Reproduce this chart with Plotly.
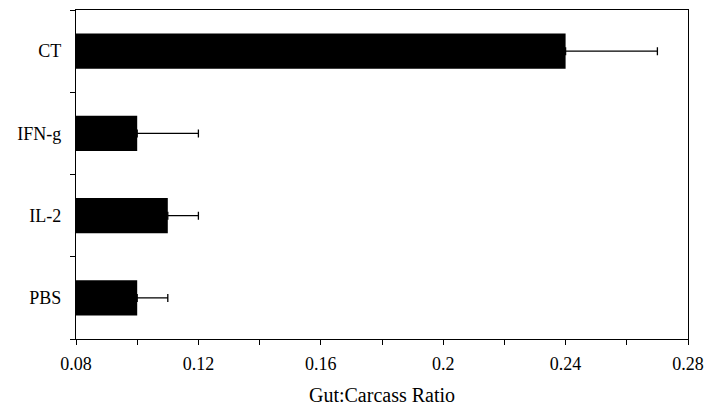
import plotly.graph_objects as go

categories = ["PBS", "IL-2", "IFN-g", "CT"]
values = [0.10, 0.11, 0.10, 0.24]
errors_plus = [0.01, 0.01, 0.02, 0.03]
x_ticks = [0.08, 0.12, 0.16, 0.2, 0.24, 0.28]
x_tick_labels = ["0.08", "0.12", "0.16", "0.2", "0.24", "0.28"]

font_family = "'Liberation Serif', 'Times New Roman', Times, serif"

fig = go.Figure()
fig.add_trace(go.Bar(
    x=values,
    y=categories,
    orientation="h",
    base=0,
    width=0.43,
    marker=dict(color="black", line=dict(width=0)),
    error_x=dict(
        type="data",
        symmetric=False,
        array=errors_plus,
        arrayminus=[0] * len(values),
        color="black",
        thickness=1.3,
        width=4,
    ),
    showlegend=False,
))

fig.update_layout(
    width=706,
    height=410,
    margin=dict(l=76, r=18, t=10, b=71),
    paper_bgcolor="white",
    plot_bgcolor="white",
    font=dict(family=font_family, size=18, color="black"),
    bargap=0.57,
    xaxis=dict(
        range=[0.08, 0.28],
        tickvals=x_ticks,
        ticktext=x_tick_labels,
        ticks="outside",
        ticklen=5,
        tickwidth=1,
        tickcolor="black",
        minor=dict(dtick=0.02, tick0=0.08, ticks="outside", ticklen=5, tickcolor="black", tickwidth=1, showgrid=False),
        showgrid=False,
        zeroline=False,
        showline=True,
        linecolor="black",
        linewidth=1.2,
        mirror=True,
        automargin=False,
        ticklabeloverflow="allow",
        ticklabelstandoff=3,
        title=dict(text="Gut:Carcass Ratio", standoff=15, font=dict(family=font_family, size=20)),
        tickfont=dict(family=font_family, size=18),
    ),
    yaxis=dict(
        categoryorder="array",
        categoryarray=categories,
        range=[-0.5, 3.5],
        ticks="outside",
        tickson="boundaries",
        ticklen=5,
        tickwidth=1,
        tickcolor="black",
        showgrid=False,
        zeroline=False,
        showline=True,
        linecolor="black",
        linewidth=1.2,
        mirror=True,
        automargin=False,
        ticklabelstandoff=10,
        tickfont=dict(family=font_family, size=18),
    ),
)

fig.write_html("out.html")
